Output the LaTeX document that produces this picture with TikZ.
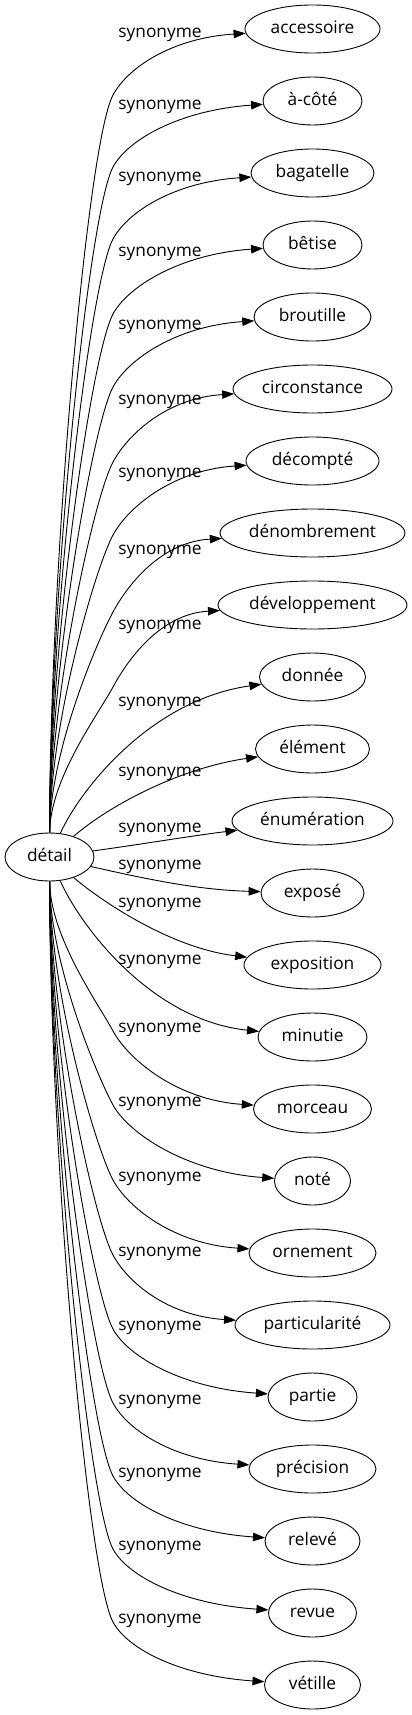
\documentclass[tikz,border=0pt]{standalone}
\usepackage{fontspec}
\setmainfont{Open Sans}
\usetikzlibrary{shapes.geometric,arrows.meta}
\newcommand{\zw}[1]{\makebox[0pt]{\raisebox{-4.6pt}[0pt][0pt]{#1}}}
\begin{document}
\begin{tikzpicture}[x=1pt,y=-1pt, font=\fontsize{17.3pt}{20pt}\selectfont,
  tgt/.style={draw, ellipse, minimum height=48pt, inner sep=0pt, line width=0.9pt},
  edge/.style={-{Triangle[length=12pt,width=8.5pt]}, line width=0.9pt},
  lab/.style={anchor=base, inner sep=0pt}]
\useasboundingbox (0,0) rectangle (412,1715);
\node[tgt, minimum width=89pt] (d) at (49.5,857) {\zw{détail}};
\foreach \i/\txt/\ww in {0/accessoire/135, 1/à-côté/99, 2/bagatelle/123, 3/bêtise/99,
  4/broutille/117, 5/circonstance/159, 6/décompté/133, 7/dénombrement/185,
  8/développement/189, 9/donnée/106, 10/élément/114, 11/énumération/161,
  12/exposé/103, 13/exposition/137, 14/minutie/109, 15/morceau/118, 16/noté/76,
  17/ornement/127, 18/particularité/155, 19/partie/89, 20/précision/127,
  21/relevé/95, 22/revue/88, 23/vétille/96}{
  \pgfmathsetmacro\ty{29+72*\i}
  \node[tgt, minimum width=\ww pt] (t\i) at (312.5,\ty) {\zw{\txt}};
}
% upper edges
\foreach \i/\ly/\ww in {0/33/135, 1/105/99, 2/177/123, 3/252/99, 4/325/117,
  5/400/159, 6/473/133, 7/550/185, 8/625/189}{
  \pgfmathsetmacro\ty{29+72*\i}
  \pgfmathsetmacro\ky{\ly+62}
  \pgfmathsetmacro\dd{833-\ky}
  \pgfmathsetmacro\ay{833-0.37*\dd}
  \pgfmathsetmacro\ss{12+0.018*\dd}
  \pgfmathsetmacro\bx{113-\ss}
  \pgfmathsetmacro\by{\ky+1.85*\ss}
  \pgfmathsetmacro\cy{\ky-27.75}
  \pgfmathsetmacro\wx{312.5-\ww/2}
  \pgfmathsetmacro\ex{\wx-0.55*(\wx-113)}
  \pgfmathsetmacro\ey{\ty+9}
  \draw[edge] (d) .. controls (50,\ay) and (\bx,\by) .. (113,\ky) .. controls (128,\cy) and (\ex,\ey) .. (t\i);
  \node[lab] (l\i) at (160,\ly+4.6) {synonyme};
}
% middle edges
\draw[edge] (d) .. controls (80,790) and (150,700) .. (t9);
\node[lab] (l9) at (160,706.6) {synonyme};
\draw[edge] (d) .. controls (110,805) and (180,768) .. (t10);
\node[lab] (l10) at (160,776.6) {synonyme};
\draw[edge] (d) .. controls (150,843) and (190,836) .. (t11);
\node[lab] (l11) at (160,832.6) {synonyme};
\draw[edge] (d) .. controls (150,880) and (200,890) .. (t12);
\node[lab] (l12) at (160,869.6) {synonyme};
\draw[edge] (d) .. controls (100,900) and (170,948) .. (t13);
\node[lab] (l13) at (160,907.6) {synonyme};
\draw[edge] (d) .. controls (80,925) and (150,1020) .. (t14);
\node[lab] (l14) at (160,964.6) {synonyme};
% lower edges
\foreach \i/\ly/\ww in {15/1028/118, 16/1102/76, 17/1177/127,
  18/1252/155, 19/1326/89, 20/1400/127, 21/1473/95, 22/1546/88, 23/1619/96}{
  \pgfmathsetmacro\ty{29+72*\i}
  \pgfmathsetmacro\ky{\ly+3}
  \pgfmathsetmacro\dd{\ky-881}
  \pgfmathsetmacro\ay{881+0.37*\dd}
  \pgfmathsetmacro\ss{12+0.018*\dd}
  \pgfmathsetmacro\bx{113-\ss}
  \pgfmathsetmacro\by{\ky-1.85*\ss}
  \pgfmathsetmacro\cy{\ky+27.75}
  \pgfmathsetmacro\wx{312.5-\ww/2}
  \pgfmathsetmacro\ex{\wx-0.55*(\wx-113)}
  \pgfmathsetmacro\ey{\ty-9}
  \draw[edge] (d) .. controls (50,\ay) and (\bx,\by) .. (113,\ky) .. controls (128,\cy) and (\ex,\ey) .. (t\i);
  \node[lab] (l\i) at (160,\ly+4.6) {synonyme};
}
\end{tikzpicture}
\end{document}
